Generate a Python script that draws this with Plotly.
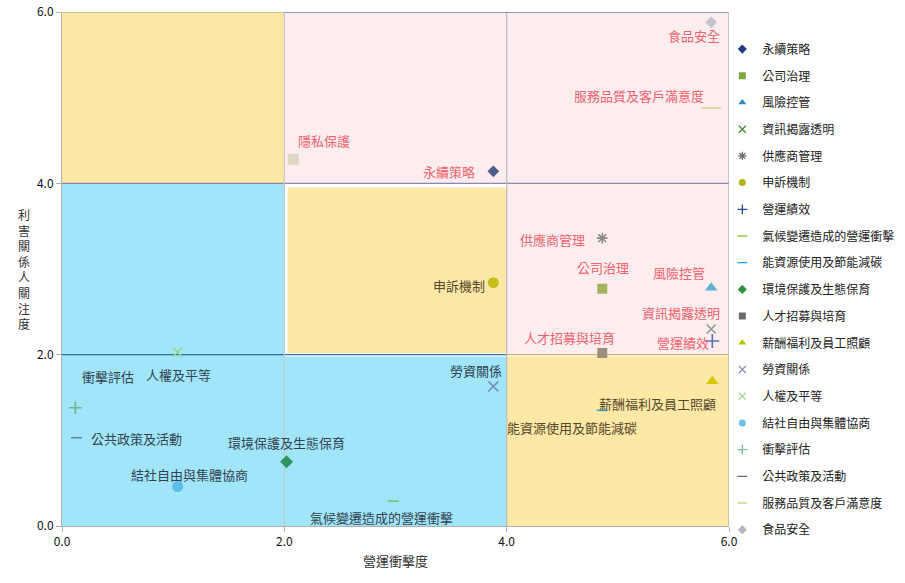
import plotly.graph_objects as go

# materiality topics: operational impact (x) vs stakeholder concern (y)
topics = ["永續策略", "公司治理", "風險控管", "資訊揭露透明", "供應商管理", "申訴機制", "營運績效",
          "氣候變遷造成的營運衝擊", "能資源使用及節能減碳", "環境保護及生態保育", "人才招募與培育",
          "薪酬福利及員工照顧", "勞資關係", "人權及平等", "結社自由與集體協商", "衝擊評估",
          "公共政策及活動", "服務品質及客戶滿意度", "食品安全", "隱私保護"]
impact = [3.88, 4.86, 5.84, 5.84, 4.86, 3.88, 5.85, 2.98, 4.86, 2.02, 4.86,
          5.85, 3.88, 1.04, 1.04, 0.12, 0.13, 5.84, 5.84, 2.08]
concern = [4.14, 2.77, 2.78, 2.30, 3.36, 2.84, 2.16, 0.29, 1.35, 0.75, 2.02,
           1.69, 1.63, 2.03, 0.46, 1.38, 1.03, 4.88, 5.88, 4.28]
tick_vals = [0, 2, 4, 6]
y_title = "利害關係人關注度"

symbols = ["diamond", "square", "triangle-up", "x-thin-open", "asterisk-open", "circle", "cross-thin-open",
           "line-ew-open", "line-ew-open", "diamond", "square", "triangle-up", "x-thin-open", "x-thin-open",
           "circle", "cross-thin-open", "line-ew-open", "line-ew-open", "diamond", "square"]
# colours as drawn in the plot (faded) and in the legend (full)
colors = ["#4F5C8C", "#A3B35E", "#5FB1D2", "#8C9A8C", "#8A8A8A", "#C6BF1E", "#5C6FB0",
          "#6CC46C", "#3AA8C8", "#2E9460", "#9C8E7E", "#D6C800", "#7A94B8", "#9ED68C",
          "#5BBDEB", "#72B08E", "#6A8A9A", "#D9D98A", "#C6C2CE", "#DDD8C2"]
leg_colors = ["#1F3C80", "#7FA63A", "#2B8CC4", "#3E8F3A", "#6E6E6E", "#B3B41C", "#1F4E9C",
              "#92C848", "#0FA8E8", "#2E9440", "#6A6A6A", "#B8C400", "#8E96B8", "#A8D890",
              "#6CC0EE", "#84B89C", "#6E6E6E", "#D2D286", "#B4B4C4", "#DDD8C2"]
sizes = [9, 10, 11, 9, 9, 11, 10, 8, 8, 10, 10, 11, 10, 9, 11, 9, 8, 14, 9, 11]

PINK = "#F2636E"
BLUE_TXT = "#33434F"
YEL_TXT = "#55472C"
# label placement: (xanchor, xshift, yshift, color)
label_pos = {
    "永續策略": ("right", -16, 0, PINK),
    "公司治理": ("center", 1, 21, PINK),
    "風險控管": ("right", -4, 15, PINK),
    "資訊揭露透明": ("right", 11, 16, PINK),
    "供應商管理": ("right", -15, -1, PINK),
    "申訴機制": ("right", -6, -3, YEL_TXT),
    "營運績效": ("right", -1, -2, PINK),
    "氣候變遷造成的營運衝擊": ("center", -12, -16, BLUE_TXT),
    "能資源使用及節能減碳": ("center", -30, -17, YEL_TXT),
    "環境保護及生態保育": ("center", 0, 19, BLUE_TXT),
    "人才招募與培育": ("center", -33, 15, PINK),
    "薪酬福利及員工照顧": ("right", 6, -22, YEL_TXT),
    "勞資關係": ("right", 11, 16, BLUE_TXT),
    "人權及平等": ("center", 1, -22, BLUE_TXT),
    "結社自由與集體協商": ("center", 12, 12, BLUE_TXT),
    "衝擊評估": ("center", 33, 31, BLUE_TXT),
    "公共政策及活動": ("left", 13, -1, BLUE_TXT),
    "服務品質及客戶滿意度": ("right", -5, 12, PINK),
    "食品安全": ("right", 11, -13, PINK),
    "隱私保護": ("left", 3, 19, PINK),
}

FONT = "Noto Sans CJK TC"
fig = go.Figure()

# quadrant backgrounds
YEL, BLU, PNK = "#FDE8A6", "#A0E5FA", "#FEEDEE"
rects = [(0, 2, 4, 6, YEL), (0, 2, 0, 4, BLU), (2, 4, 0, 1.98, BLU), (2.03, 4, 2.02, 3.95, YEL),
         (2, 6, 4, 6, PNK), (4, 6.05, 2, 4, PNK), (4, 6, 0, 1.98, YEL)]
for x0, x1, y0, y1, c in rects:
    fig.add_shape(type="rect", x0=x0, x1=x1, y0=y0, y1=y1, fillcolor=c, line_width=0, layer="below")

lines = [(0, 6, 4, 4, "#8A88AC"), (0, 4, 2, 2, "#2C6E9E"), (4, 6, 2, 2, "#D4AE62"),
         (2, 2, 0, 6, "#C9C6CC"), (4, 4, 0, 6, "#BDBAC6"), (2, 6, 6, 6, "#1E4E9C"),
         (0, 2, 6, 6, "#A59B72"), (6, 6, 0, 6, "#A8A8A8")]
for x0, x1, y0, y1, c in lines:
    fig.add_shape(type="line", x0=x0, x1=x1, y0=y0, y1=y1, line=dict(color=c, width=1.2), layer="below")

for i, name in enumerate(topics):
    c = colors[i]
    is_open = "open" in symbols[i]
    fig.add_trace(go.Scatter(
        x=[impact[i]], y=[concern[i]], mode="markers", name=name, showlegend=False,
        marker=dict(symbol=symbols[i], size=sizes[i], color=c,
                    line=dict(color=c, width=1.6 if is_open else 0)),
    ))
    xa, xs, ys, tc = label_pos[name]
    fig.add_annotation(x=impact[i], y=concern[i], text=name, showarrow=False,
                       xanchor=xa, yanchor="middle", xshift=xs, yshift=ys,
                       font=dict(family=FONT, size=13, color=tc))

# legend entries with small, full-colour markers (隱私保護 is not in the legend)
for i, name in enumerate(topics):
    if name == "隱私保護":
        continue
    lc = leg_colors[i]
    is_open = "open" in symbols[i]
    fig.add_trace(go.Scatter(
        x=[None], y=[None], mode="markers", name=name, legendgroup=name,
        marker=dict(symbol=symbols[i], size=7, color=lc, line=dict(color=lc, width=1.3 if is_open else 0)),
    ))

# stacked vertical y-axis title, one character per line
fig.add_annotation(x=-0.069, y=0.5, xref="paper", yref="paper", showarrow=False,
                   text="<br>".join(y_title), align="center",
                   font=dict(family=FONT, size=12, color="#333333"))

fig.update_layout(
    width=905, height=583,
    margin=dict(l=62, r=176, t=12, b=57, autoexpand=False),
    plot_bgcolor="white", paper_bgcolor="white",
    font=dict(family=FONT, size=12, color="#222222"),
    legend=dict(x=0.99, y=0.956, xanchor="left", yanchor="top", traceorder="grouped",
                tracegroupgap=7.7, itemwidth=30,
                font=dict(family=FONT, size=12, color="#222222"), bgcolor="rgba(0,0,0,0)"),
    xaxis=dict(range=[0, 6], tickvals=tick_vals, tickformat=".1f", showgrid=False, zeroline=False,
               showline=True, linecolor="#B0B0B0", ticks="outside", ticklen=5, tickcolor="#B0B0B0",
               ticklabeloverflow="allow",
               title=dict(text="營運衝擊度", font=dict(family=FONT, size=13, color="#333333"), standoff=8),
               tickfont=dict(family=FONT, size=12, color="#111111")),
    yaxis=dict(range=[0, 6], tickvals=tick_vals, tickformat=".1f", showgrid=False, zeroline=False,
               showline=True, linecolor="#B0B0B0", ticks="outside", ticklen=5, tickcolor="#B0B0B0",
               ticklabeloverflow="allow",
               tickfont=dict(family=FONT, size=12, color="#111111")),
)

# drop the default page margin so the figure fills the window exactly
fig.write_html("out.html", config={"displayModeBar": False},
               post_script="document.body.style.margin='0';")
